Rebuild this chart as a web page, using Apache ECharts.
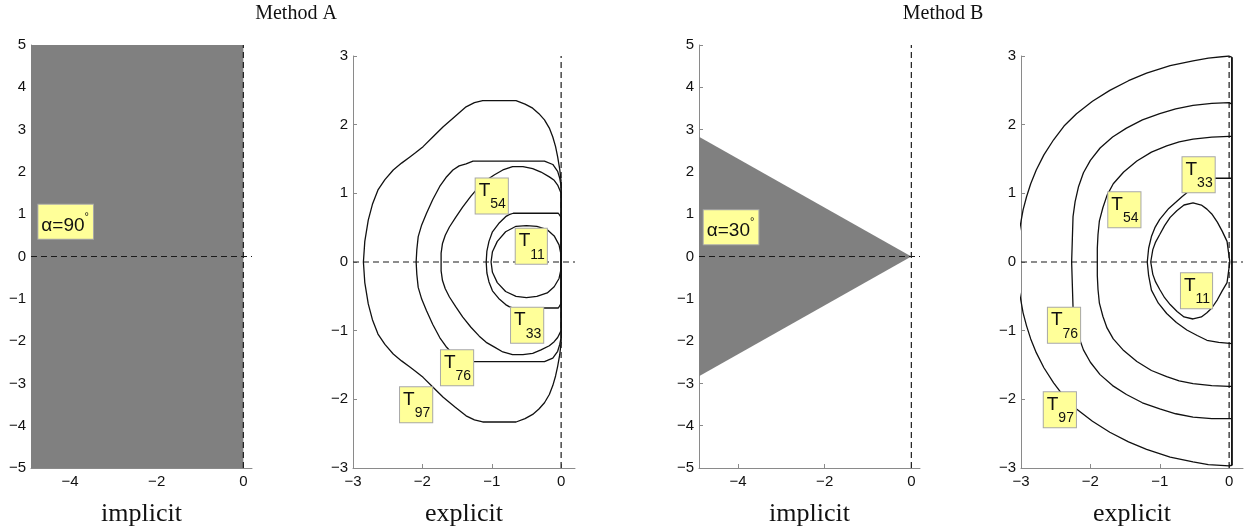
<!DOCTYPE html>
<html>
<head>
<meta charset="utf-8">
<script src="https://cdn.jsdelivr.net/npm/echarts@6/dist/echarts.min.js"></script>
<style>
html,body{margin:0;padding:0;background:#fff;}
#c{width:1252px;height:531px;}
</style>
</head>
<body>
<div id="c"></div>
<script>
// ---------- data ----------
const panelTitles = ['Method A', 'Method B'];
const axisNames = ['implicit', 'explicit', 'implicit', 'explicit'];

const implicitXTicks = [-4, -2, 0];
const implicitYTicks = [-5, -4, -3, -2, -1, 0, 1, 2, 3, 4, 5];
const explicitXTicks = [-3, -2, -1, 0];
const explicitYTicks = [-3, -2, -1, 0, 1, 2, 3];

// stability regions (implicit)
const regionA = [[-4.9, 5], [0, 5], [0, -5], [-4.9, -5]];
const regionB = [[-4.9, 2.83], [0, 0], [-4.9, -2.83]];
const angleLabels = ['90', '30'];
const angleLabelPos = [[-4.1, 0.82], [-4.16, 0.69]];

// Method A explicit contours
const A_T97 = [[0,1.17],[-0.02,1.35],[-0.05,1.53],[-0.08,1.68],[-0.12,1.82],[-0.17,1.95],[-0.24,2.07],[-0.32,2.16],[-0.41,2.24],[-0.52,2.30],[-0.65,2.35],[-1.13,2.35],[-1.25,2.32],[-1.37,2.26],[-1.53,2.12],[-1.70,1.97],[-1.85,1.82],[-1.99,1.68],[-2.10,1.59],[-2.18,1.53],[-2.30,1.44],[-2.42,1.34],[-2.54,1.20],[-2.64,1.05],[-2.72,0.84],[-2.78,0.61],[-2.83,0.30],[-2.85,0],[-2.83,-0.30],[-2.78,-0.61],[-2.72,-0.84],[-2.64,-1.05],[-2.54,-1.20],[-2.42,-1.34],[-2.30,-1.44],[-2.18,-1.53],[-2.10,-1.59],[-1.99,-1.68],[-1.85,-1.82],[-1.70,-1.97],[-1.53,-2.11],[-1.37,-2.24],[-1.25,-2.30],[-1.13,-2.33],[-0.65,-2.33],[-0.52,-2.28],[-0.41,-2.22],[-0.32,-2.14],[-0.24,-2.05],[-0.17,-1.93],[-0.12,-1.80],[-0.08,-1.66],[-0.05,-1.52],[-0.02,-1.35],[0,-1.17],[0,1.17]];
const A_T76 = [[0,1.10],[-0.02,1.22],[-0.05,1.32],[-0.12,1.42],[-0.24,1.47],[-1.27,1.47],[-1.37,1.43],[-1.47,1.40],[-1.56,1.34],[-1.66,1.23],[-1.75,1.10],[-1.85,0.91],[-1.94,0.71],[-2.01,0.54],[-2.06,0.37],[-2.08,0.18],[-2.09,0],[-2.08,-0.18],[-2.06,-0.37],[-2.01,-0.54],[-1.94,-0.71],[-1.85,-0.91],[-1.75,-1.10],[-1.66,-1.23],[-1.56,-1.34],[-1.47,-1.39],[-1.37,-1.42],[-1.27,-1.45],[-0.24,-1.45],[-0.12,-1.40],[-0.05,-1.30],[-0.02,-1.20],[0,-1.10],[0,1.10]];
const A_T54 = [[0,1.0],[-0.05,1.12],[-0.10,1.19],[-0.17,1.24],[-0.29,1.31],[-0.41,1.36],[-0.55,1.39],[-0.70,1.39],[-0.84,1.34],[-0.96,1.27],[-1.08,1.19],[-1.18,1.10],[-1.30,0.96],[-1.42,0.80],[-1.52,0.65],[-1.61,0.51],[-1.67,0.39],[-1.71,0.27],[-1.73,0.13],[-1.73,0],[-1.73,-0.13],[-1.71,-0.27],[-1.67,-0.39],[-1.61,-0.51],[-1.52,-0.65],[-1.42,-0.80],[-1.30,-0.95],[-1.18,-1.08],[-1.08,-1.17],[-0.96,-1.24],[-0.84,-1.31],[-0.70,-1.35],[-0.55,-1.35],[-0.41,-1.33],[-0.29,-1.28],[-0.17,-1.22],[-0.10,-1.16],[-0.05,-1.10],[0,-1.0],[0,1.0]];
const A_T33 = [[0,0.65],[-0.04,0.71],[-0.69,0.71],[-0.75,0.69],[-0.80,0.66],[-0.90,0.56],[-0.99,0.44],[-1.04,0.30],[-1.07,0.16],[-1.08,0],[-1.07,-0.16],[-1.04,-0.29],[-0.99,-0.42],[-0.90,-0.53],[-0.80,-0.62],[-0.75,-0.65],[-0.69,-0.67],[-0.04,-0.67],[0,-0.6],[0,0.65]];
const A_T11 = [[0,0.1],[-0.03,0.25],[-0.1,0.38],[-0.2,0.47],[-0.35,0.52],[-0.5,0.53],[-0.65,0.52],[-0.8,0.44],[-0.92,0.3],[-0.99,0.15],[-1.01,0],[-0.99,-0.15],[-0.92,-0.3],[-0.8,-0.43],[-0.65,-0.5],[-0.5,-0.52],[-0.35,-0.5],[-0.2,-0.45],[-0.1,-0.36],[-0.03,-0.24],[0,-0.1],[0,0.1]];

// Method B explicit contours
const B_T97 = [[0.04,2.98],[0,3.0],[-0.3,2.97],[-0.52,2.93],[-0.85,2.86],[-1.19,2.75],[-1.45,2.64],[-1.72,2.50],[-1.97,2.34],[-2.20,2.16],[-2.38,1.98],[-2.53,1.78],[-2.67,1.56],[-2.78,1.34],[-2.86,1.14],[-2.92,0.95],[-2.97,0.76],[-3.0,0.59],[-3.05,0.3],[-3.08,0],[-3.05,-0.3],[-3.0,-0.57],[-2.97,-0.74],[-2.92,-0.93],[-2.86,-1.12],[-2.78,-1.32],[-2.67,-1.54],[-2.53,-1.76],[-2.38,-1.96],[-2.20,-2.14],[-1.97,-2.32],[-1.72,-2.48],[-1.45,-2.62],[-1.19,-2.73],[-0.85,-2.84],[-0.52,-2.91],[-0.3,-2.95],[0,-2.97],[0.04,-2.96],[0.04,2.98]];
const B_T76 = [[0.04,2.30],[0,2.32],[-0.25,2.31],[-0.52,2.28],[-0.77,2.23],[-1.0,2.16],[-1.25,2.07],[-1.48,1.95],[-1.68,1.82],[-1.86,1.66],[-2.0,1.48],[-2.10,1.30],[-2.17,1.10],[-2.22,0.88],[-2.25,0.66],[-2.26,0.33],[-2.27,0],[-2.26,-0.33],[-2.25,-0.66],[-2.22,-0.88],[-2.17,-1.08],[-2.10,-1.28],[-2.0,-1.46],[-1.86,-1.64],[-1.68,-1.80],[-1.48,-1.93],[-1.25,-2.05],[-1.0,-2.14],[-0.77,-2.21],[-0.52,-2.26],[-0.25,-2.28],[0,-2.28],[0.04,-2.28]];
const B_T54 = [[0.04,1.83],[0,1.83],[-0.25,1.82],[-0.52,1.79],[-0.72,1.75],[-0.90,1.69],[-1.12,1.60],[-1.33,1.47],[-1.52,1.31],[-1.67,1.14],[-1.76,0.97],[-1.82,0.79],[-1.87,0.6],[-1.89,0.4],[-1.90,0.2],[-1.90,0],[-1.90,-0.2],[-1.89,-0.4],[-1.87,-0.6],[-1.82,-0.79],[-1.76,-0.96],[-1.67,-1.12],[-1.52,-1.29],[-1.33,-1.45],[-1.12,-1.58],[-0.90,-1.67],[-0.72,-1.73],[-0.52,-1.77],[-0.25,-1.80],[0,-1.81],[0.04,-1.81]];
const B_T33 = [[0.04,1.22],[-0.23,1.22],[-0.35,1.18],[-0.45,1.12],[-0.57,1.04],[-0.68,0.95],[-0.87,0.78],[-1.0,0.62],[-1.07,0.5],[-1.12,0.37],[-1.16,0.2],[-1.18,0],[-1.16,-0.2],[-1.12,-0.41],[-1.02,-0.6],[-0.90,-0.75],[-0.76,-0.88],[-0.61,-0.99],[-0.46,-1.07],[-0.32,-1.14],[-0.15,-1.17],[-0.03,-1.18],[0.04,-1.19]];
const B_T11 = [[0.01,0],[-0.01,0.15],[-0.03,0.3],[-0.1,0.45],[-0.17,0.58],[-0.25,0.7],[-0.32,0.77],[-0.4,0.83],[-0.52,0.86],[-0.65,0.83],[-0.75,0.75],[-0.85,0.65],[-0.93,0.53],[-1.0,0.4],[-1.06,0.29],[-1.1,0.18],[-1.13,0],[-1.1,-0.18],[-1.06,-0.29],[-1.0,-0.4],[-0.93,-0.52],[-0.85,-0.62],[-0.75,-0.72],[-0.65,-0.8],[-0.52,-0.83],[-0.4,-0.8],[-0.32,-0.74],[-0.25,-0.67],[-0.17,-0.55],[-0.1,-0.42],[-0.03,-0.3],[-0.01,-0.15],[0.01,0]];
const B_edge = [[0.04,2.98],[0.04,-2.96]];

const contourNames = ['97', '76', '54', '33', '11'];
const contoursA = [A_T97, A_T76, A_T54, A_T33, A_T11];
const contoursB = [B_T97, B_T76, B_T54, B_T33, B_T11];
const labelPosA = [[-2.09,-2.08],[-1.5,-1.54],[-1.0,0.96],[-0.49,-0.92],[-0.43,0.23]];
const labelPosB = [[-2.44,-2.15],[-2.38,-0.92],[-1.51,0.76],[-0.44,1.27],[-0.47,-0.42]];

// ---------- chart ----------
const SANS = '"Liberation Sans", Arial, Helvetica, sans-serif';
const SERIF = '"Liberation Serif", "Times New Roman", serif';
const fmt = v => String(v).replace('-', '\u2212');

const grids = [
  {left: 31, top: 45, width: 221, height: 423, outerBoundsMode: 'none', containLabel: false},
  {left: 353, top: 56, width: 222, height: 412, outerBoundsMode: 'none', containLabel: false},
  {left: 699, top: 45, width: 221, height: 423, outerBoundsMode: 'none', containLabel: false},
  {left: 1021, top: 56, width: 222, height: 412, outerBoundsMode: 'none', containLabel: false}
];
const xRanges = [[-4.9, 0.2], [-3, 0.2], [-4.9, 0.2], [-3, 0.2]];
const yRanges = [[-5, 5], [-3, 3], [-5, 5], [-3, 3]];
const xTicks = [implicitXTicks, explicitXTicks, implicitXTicks, explicitXTicks];
const yTicks = [implicitYTicks, explicitYTicks, implicitYTicks, explicitYTicks];

const axLine = {show: true, onZero: false, lineStyle: {color: '#8a8a8a', width: 1}};
const xAxes = grids.map((g, i) => ({
  gridIndex: i, type: 'value', min: xRanges[i][0], max: xRanges[i][1],
  axisLine: axLine,
  axisTick: {show: true, inside: true, length: 4, customValues: xTicks[i], lineStyle: {color: '#8a8a8a'}},
  axisLabel: {customValues: xTicks[i], formatter: fmt, color: '#111', fontSize: 15, fontFamily: SANS, margin: 6},
  splitLine: {show: false},
  name: axisNames[i], nameLocation: 'middle', nameGap: 33,
  nameTextStyle: {fontFamily: SERIF, fontSize: 26, color: '#111'}
}));
const yAxes = grids.map((g, i) => ({
  gridIndex: i, type: 'value', min: yRanges[i][0], max: yRanges[i][1],
  axisLine: axLine,
  axisTick: {show: true, inside: true, length: 4, customValues: yTicks[i], lineStyle: {color: '#8a8a8a'}},
  axisLabel: {customValues: yTicks[i], formatter: fmt, color: '#111', fontSize: 15, fontFamily: SANS, margin: 5},
  splitLine: {show: false}
}));

const series = [];
// grey regions
[[0, regionA], [2, regionB]].forEach(([gi, poly]) => {
  series.push({
    type: 'custom', xAxisIndex: gi, yAxisIndex: gi, silent: true, z: 1,
    data: [0],
    renderItem: (params, api) => ({
      type: 'polygon',
      shape: {points: poly.map(p => api.coord(p))},
      style: {fill: '#808080', stroke: null}
    })
  });
});
// dashed reference lines
grids.forEach((g, i) => {
  const dash = {color: '#1a1a1a', width: 1.2, type: [6, 4]};
  series.push({type: 'line', xAxisIndex: i, yAxisIndex: i, silent: true, z: 2, symbol: 'none',
    data: [[xRanges[i][0], 0], [xRanges[i][1], 0]], lineStyle: dash});
  series.push({type: 'line', xAxisIndex: i, yAxisIndex: i, silent: true, z: 2, symbol: 'none',
    data: [[0, yRanges[i][0]], [0, yRanges[i][1]]], lineStyle: dash});
});
// contours
[[1, contoursA], [3, contoursB]].forEach(([gi, cs]) => {
  cs.forEach(c => series.push({
    type: 'line', xAxisIndex: gi, yAxisIndex: gi, silent: true, z: 3, symbol: 'none',
    data: c, lineStyle: {color: '#111', width: 1.3}, clip: true
  }));
});
series.push({type: 'line', xAxisIndex: 3, yAxisIndex: 3, silent: true, z: 3, symbol: 'none',
  data: B_edge, lineStyle: {color: '#111', width: 1.6}});

// labels
const boxStyle = {backgroundColor: '#ffff99', borderColor: '#a8a8a8', borderWidth: 1, opacity: 1};
const tRich = {
  t: {fontSize: 19, height: 19, lineHeight: 30, fontFamily: SANS, color: '#111', verticalAlign: 'top'},
  s: {fontSize: 14, height: 14, lineHeight: 30, fontFamily: SANS, color: '#111', verticalAlign: 'bottom'}
};
[[1, labelPosA], [3, labelPosB]].forEach(([gi, pos]) => {
  series.push({
    type: 'scatter', xAxisIndex: gi, yAxisIndex: gi, silent: true, z: 5, symbolSize: 0,
    itemStyle: {opacity: 1},
    data: contourNames.map((n, k) => ({name: n, value: pos[k]})),
    label: Object.assign({show: true, position: 'inside', padding: [3, 2, 2, 3],
      formatter: p => '{t|T}{s|' + p.name + '}', rich: tRich}, boxStyle)
  });
});
const aRich = {
  a: {fontSize: 19, height: 19, lineHeight: 26, fontFamily: SANS, color: '#111', verticalAlign: 'bottom'},
  d: {fontSize: 11, height: 16, lineHeight: 26, fontFamily: SANS, color: '#111', verticalAlign: 'top'}
};
[[0, 0], [2, 1]].forEach(([gi, k]) => {
  series.push({
    type: 'scatter', xAxisIndex: gi, yAxisIndex: gi, silent: true, z: 5, symbolSize: 0,
    itemStyle: {opacity: 1},
    data: [{name: angleLabels[k], value: angleLabelPos[k]}],
    label: Object.assign({show: true, position: 'inside', padding: [4, 4, 4, 3],
      formatter: p => '{a|\u03b1=' + p.name + '}{d|\u00b0}', rich: aRich}, boxStyle)
  });
});

const chart = echarts.init(document.getElementById('c'), null, {renderer: 'canvas'});
chart.setOption({
  backgroundColor: '#ffffff',
  animation: false,
  grid: grids,
  xAxis: xAxes,
  yAxis: yAxes,
  graphic: [
    {type: 'text', x: 296, y: 14, style: {text: panelTitles[0], fontSize: 20, fontFamily: SERIF, fill: '#111', align: 'center', verticalAlign: 'middle'}},
    {type: 'text', x: 943, y: 14, style: {text: panelTitles[1], fontSize: 20, fontFamily: SERIF, fill: '#111', align: 'center', verticalAlign: 'middle'}}
  ],
  series: series
});
</script>
</body>
</html>
